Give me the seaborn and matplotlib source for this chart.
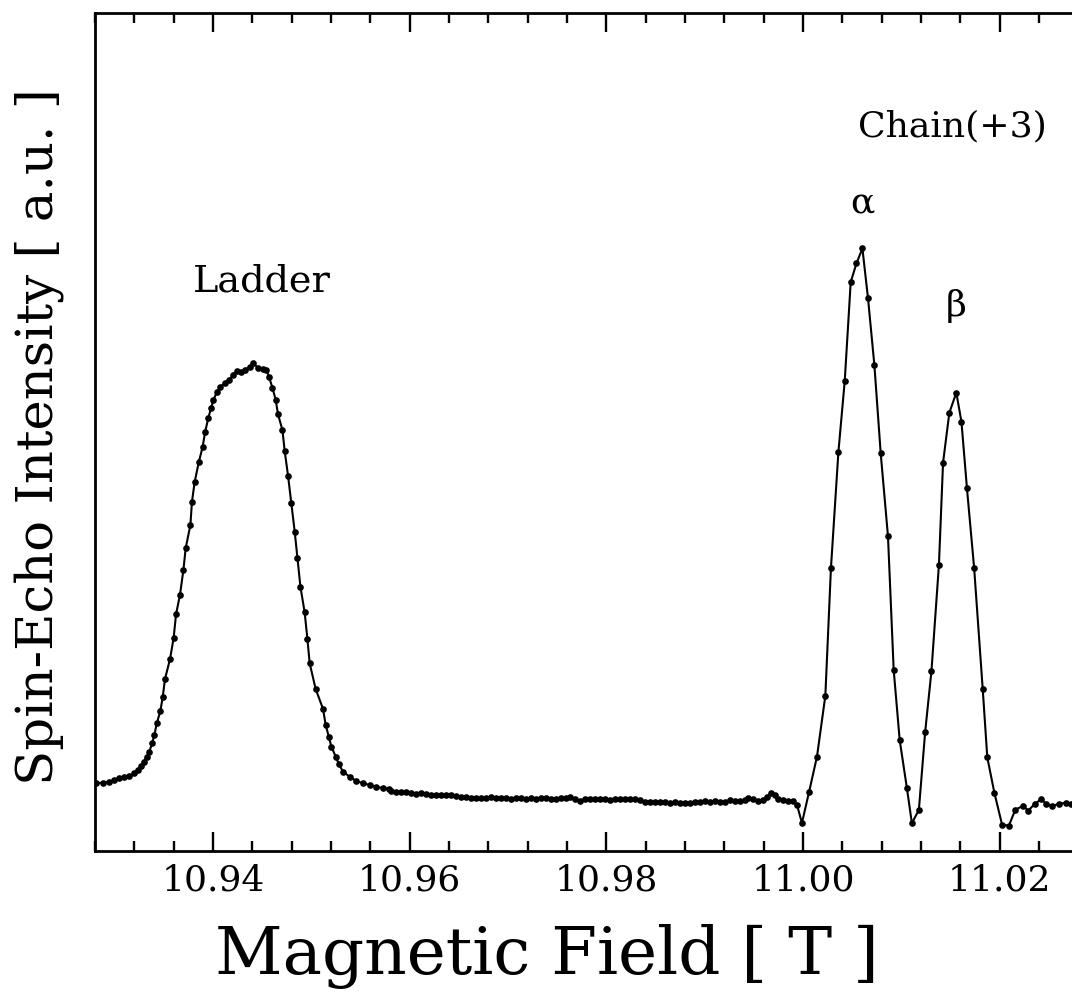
import numpy as np
import pandas as pd
import matplotlib
matplotlib.use("Agg")
import matplotlib.pyplot as plt
from matplotlib.ticker import MultipleLocator, FixedLocator, FixedFormatter
import seaborn as sns

# Field sweep [T] and spin-echo intensity [a.u.] around the ladder line
ladder_field = [
    10.92810, 10.92878, 10.92946, 10.92997, 10.93048, 10.93099, 10.93150, 10.93201,
    10.93234, 10.93268, 10.93295, 10.93326, 10.93353, 10.93380, 10.93404, 10.93428,
    10.93465, 10.93489, 10.93512, 10.93563, 10.93600, 10.93624, 10.93664, 10.93699,
    10.93722, 10.93770, 10.93786, 10.93814, 10.93855, 10.93895, 10.93919, 10.93953,
    10.93980, 10.94004, 10.94041, 10.94075, 10.94122, 10.94167, 10.94200, 10.94244,
    10.94285, 10.94325, 10.94373, 10.94407, 10.94458, 10.94508, 10.94543, 10.94569,
    10.94604, 10.94638, 10.94661, 10.94706, 10.94729, 10.94763, 10.94797, 10.94831,
    10.94858, 10.94889, 10.94932, 10.94960, 10.94983, 10.95044, 10.95119, 10.95146,
    10.95177, 10.95204, 10.95248, 10.95281, 10.95322, 10.95390, 10.95458, 10.95525,
    10.95593, 10.95662, 10.95729, 10.95790,
]
ladder_intensity = [
    8.08, 8.15, 8.27, 8.47, 8.68, 8.83, 8.99, 9.27,
    9.67, 10.18, 10.66, 11.25, 11.85, 12.85, 13.84, 15.24,
    16.71, 18.41, 20.53, 22.91, 25.45, 28.25, 30.55, 33.53,
    36.12, 38.90, 41.68, 44.07, 46.38, 48.25, 49.96, 51.71,
    52.83, 53.82, 54.81, 55.41, 55.81, 56.21, 56.80, 57.28,
    57.12, 57.40, 57.79, 58.20, 57.67, 57.52, 57.40, 56.60,
    55.29, 53.82, 52.11, 50.24, 47.73, 44.79, 41.49, 38.10,
    35.00, 31.54, 28.48, 25.30, 22.40, 19.33, 16.95, 15.04,
    13.64, 12.45, 11.25, 10.35, 9.46, 8.87, 8.35, 8.08,
    7.88, 7.60, 7.55, 7.40,
]

# Flat background between the two groups of lines
background_field = [
    10.95814, 10.95865, 10.95916, 10.95967, 10.96018, 10.96068, 10.96119, 10.96170,
    10.96221, 10.96272, 10.96323, 10.96373, 10.96424, 10.96475, 10.96526, 10.96577,
    10.96628, 10.96678, 10.96729, 10.96780, 10.96831, 10.96882, 10.96933, 10.96984,
    10.97034, 10.97085, 10.97136, 10.97187, 10.97238, 10.97289, 10.97340, 10.97390,
    10.97441, 10.97492, 10.97543, 10.97594, 10.97627, 10.97678, 10.97729, 10.97780,
    10.97831, 10.97881, 10.97932, 10.97983, 10.98034, 10.98085, 10.98136, 10.98187,
    10.98237, 10.98288, 10.98339, 10.98390, 10.98441, 10.98492, 10.98542, 10.98593,
    10.98644, 10.98695, 10.98746, 10.98797, 10.98848, 10.98898, 10.98949, 10.99000,
    10.99051, 10.99102, 10.99153, 10.99203, 10.99254, 10.99305, 10.99356, 10.99407,
    10.99440, 10.99491, 10.99542, 10.99592, 10.99633, 10.99678, 10.99711, 10.99745,
    10.99796, 10.99847, 10.99898, 10.99939,
]
background_intensity = [
    7.20, 7.00, 7.08, 7.04, 6.96, 6.80, 6.89, 6.80,
    6.72, 6.65, 6.65, 6.65, 6.68, 6.56, 6.48, 6.41,
    6.32, 6.36, 6.32, 6.32, 6.41, 6.36, 6.32, 6.29,
    6.24, 6.29, 6.29, 6.24, 6.29, 6.24, 6.32, 6.29,
    6.24, 6.24, 6.29, 6.29, 6.41, 6.21, 6.00, 6.17,
    6.24, 6.24, 6.21, 6.17, 6.09, 6.17, 6.21, 6.24,
    6.17, 6.17, 6.09, 5.85, 5.88, 5.88, 5.85, 5.81,
    5.76, 5.81, 5.76, 5.73, 5.76, 5.81, 5.88, 5.93,
    5.88, 5.93, 5.85, 5.88, 6.05, 5.93, 5.93, 6.09,
    6.32, 6.24, 6.00, 6.09, 6.41, 6.96, 6.68, 6.17,
    6.09, 6.00, 5.93, 5.49,
]

# Chain(+3) alpha and beta lines
chain_field = [
    10.99989, 11.00061, 11.00142, 11.00227, 11.00284, 11.00360, 11.00424, 11.00485,
    11.00543, 11.00604, 11.00661, 11.00726, 11.00790, 11.00864, 11.00922, 11.00983,
    11.01057, 11.01107, 11.01178, 11.01242, 11.01306, 11.01382, 11.01424, 11.01488,
    11.01559, 11.01611, 11.01667, 11.01740, 11.01827, 11.01874, 11.01947, 11.02025,
    11.02094, 11.02160, 11.02237, 11.02292, 11.02359, 11.02424, 11.02475, 11.02537,
    11.02607, 11.02675, 11.02729,
]
chain_intensity = [
    3.34, 7.02, 11.26, 18.53, 33.77, 47.65, 56.05, 67.89,
    70.11, 71.90, 65.95, 57.94, 47.46, 37.55, 21.60, 13.25,
    7.46, 3.32, 4.89, 14.20, 21.46, 34.13, 46.34, 52.30,
    54.69, 51.23, 43.29, 33.79, 19.39, 11.16, 6.89, 3.10,
    3.04, 4.95, 5.37, 4.83, 5.66, 6.17, 5.61, 5.37,
    5.66, 5.75, 5.61,
]

major_ticks = [10.94, 10.96, 10.98, 11.00, 11.02]
major_labels = ["10.94", "10.96", "10.98", "11.00", "11.02"]

spectrum = pd.DataFrame({
    "field": ladder_field + background_field + chain_field,
    "intensity": ladder_intensity + background_intensity + chain_intensity,
})

sns.set_theme(style="ticks")
plt.rcParams["font.family"] = ["DejaVu Serif"]
plt.rcParams["text.color"] = "black"
plt.rcParams["axes.labelcolor"] = "black"
plt.rcParams["xtick.color"] = "black"
plt.rcParams["axes.edgecolor"] = "black"

fig = plt.figure(figsize=(10.72, 9.92), dpi=100)
ax = fig.add_axes([95 / 1072, (992 - 851) / 992, 980 / 1072, 838 / 992])

sns.lineplot(data=spectrum, x="field", y="intensity", ax=ax, estimator=None,
             sort=True, color="black", linewidth=1.5, marker="o",
             markersize=4.8, markeredgewidth=0, markerfacecolor="black")

ax.set_xlim(10.928, 10.928 + 980 / 9833.6)
ax.set_ylim(0, 100)

ax.xaxis.set_major_locator(FixedLocator(major_ticks))
ax.xaxis.set_major_formatter(FixedFormatter(major_labels))
ax.xaxis.set_minor_locator(MultipleLocator(0.004))
ax.tick_params(axis="x", which="both", direction="in", top=True, bottom=True,
               width=1.7, color="black", labelcolor="black", labelsize=26, pad=9)
ax.tick_params(axis="x", which="major", length=14)
ax.tick_params(axis="x", which="minor", length=7)
ax.set_yticks([])

for side in ["left", "bottom", "top"]:
    ax.spines[side].set_linewidth(2.0)
    ax.spines[side].set_color("black")
ax.spines["right"].set_visible(False)

ax.set_xlabel("Magnetic Field [ T ]", fontsize=47.5, labelpad=19, color="black",
              x=0.461)
ax.set_ylabel("Spin-Echo Intensity [ a.u. ]", fontsize=37, labelpad=22, color="black",
              y=0.495)

ax.text(10.9450, 68.0, "Ladder", fontsize=27.5, ha="center", va="center")
ax.text(11.0152, 86.5, "Chain(+3)", fontsize=26, ha="center", va="center")
ax.text(11.0060, 77.4, "α", fontsize=26, ha="center", va="center")
ax.text(11.0156, 65.0, "β", fontsize=26, ha="center", va="center")

fig.savefig("out.png", dpi=100)
